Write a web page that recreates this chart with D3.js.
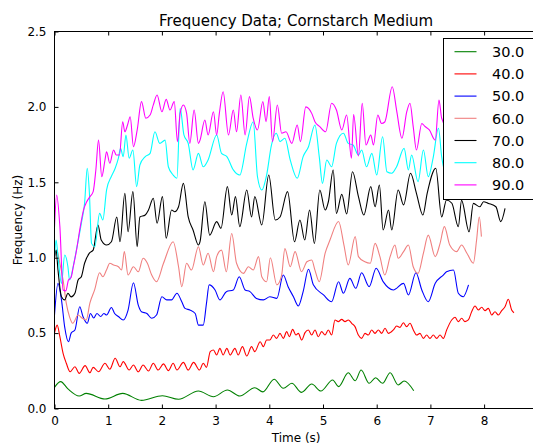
<!DOCTYPE html>
<html>
<head>
<meta charset="utf-8">
<script src="https://cdn.jsdelivr.net/npm/d3@7"></script>
<style>
  html, body { margin: 0; padding: 0; background: #fff; }
  svg { display: block; }
  text { font-family: "DejaVu Sans", sans-serif; fill: #000; }
</style>
</head>
<body>
<svg id="chart" width="533" height="446"></svg>
<script>
// ---- data: [time (s), frequency (Hz)] ----
const s30 = [[0,0.14],[0.115,0.178],[0.25,0.13],[0.46,0.083],[0.59,0.10],[0.94,0.063],[1.27,0.10],[1.62,0.054],[2.01,0.085],[2.31,0.061],[2.68,0.116],[2.96,0.078],[3.22,0.123],[3.45,0.083],[3.73,0.138],[3.88,0.11],[4.09,0.194],[4.26,0.134],[4.42,0.167],[4.6,0.107],[4.79,0.162],[4.96,0.116],[5.18,0.189],[5.29,0.145],[5.47,0.237],[5.6,0.184],[5.71,0.255],[5.86,0.167],[5.98,0.204],[6.11,0.167],[6.25,0.237],[6.4,0.156],[6.51,0.182],[6.69,0.118]];

const s40 = [[0,0.50],[0.05,0.553],[0.1,0.476],[0.16,0.366],[0.22,0.30],[0.29,0.244],[0.38,0.277],[0.46,0.233],[0.57,0.284],[0.66,0.237],[0.72,0.273],[0.82,0.244],[0.94,0.30],[1.03,0.26],[1.13,0.333],[1.22,0.277],[1.28,0.311],[1.39,0.255],[1.47,0.288],[1.56,0.244],[1.65,0.288],[1.75,0.249],[1.84,0.30],[1.93,0.255],[2.03,0.296],[2.12,0.251],[2.21,0.30],[2.28,0.255],[2.40,0.306],[2.49,0.255],[2.59,0.306],[2.70,0.255],[2.77,0.30],[2.83,0.273],[2.90,0.377],[2.96,0.388],[3.02,0.355],[3.08,0.399],[3.14,0.355],[3.21,0.399],[3.27,0.355],[3.36,0.399],[3.42,0.355],[3.50,0.41],[3.58,0.348],[3.67,0.41],[3.73,0.377],[3.83,0.443],[3.89,0.41],[3.95,0.454],[4.01,0.454],[4.075,0.487],[4.137,0.465],[4.199,0.498],[4.261,0.465],[4.324,0.51],[4.373,0.476],[4.435,0.525],[4.497,0.487],[4.541,0.498],[4.603,0.454],[4.665,0.503],[4.727,0.521],[4.789,0.487],[4.851,0.521],[4.913,0.476],[4.975,0.51],[5.037,0.487],[5.099,0.521],[5.161,0.487],[5.223,0.587],[5.285,0.576],[5.348,0.591],[5.41,0.576],[5.472,0.587],[5.534,0.565],[5.596,0.543],[5.658,0.487],[5.72,0.465],[5.782,0.498],[5.844,0.487],[5.906,0.521],[5.968,0.498],[6.031,0.521],[6.093,0.498],[6.155,0.532],[6.217,0.498],[6.31,0.521],[6.372,0.547],[6.434,0.538],[6.496,0.569],[6.558,0.543],[6.62,0.565],[6.682,0.521],[6.744,0.487],[6.806,0.498],[6.868,0.465],[6.93,0.487],[6.992,0.465],[7.054,0.487],[7.117,0.465],[7.179,0.487],[7.241,0.465],[7.303,0.521],[7.396,0.587],[7.458,0.605],[7.52,0.576],[7.582,0.598],[7.644,0.576],[7.706,0.587],[7.768,0.642],[7.831,0.68],[7.893,0.653],[7.955,0.671],[8.017,0.649],[8.079,0.664],[8.141,0.62],[8.203,0.642],[8.265,0.62],[8.327,0.649],[8.389,0.675],[8.451,0.724],[8.513,0.653],[8.556,0.635]];

const s50 = [[0,0.62],[0.065,0.83],[0.13,0.72],[0.19,0.54],[0.26,0.443],[0.31,0.50],[0.38,0.52],[0.47,0.675],[0.53,0.61],[0.61,0.565],[0.67,0.63],[0.73,0.60],[0.79,0.63],[0.86,0.61],[0.92,0.63],[0.97,0.62],[1.06,0.67],[1.12,0.63],[1.19,0.61],[1.28,0.587],[1.37,0.653],[1.47,0.834],[1.56,0.686],[1.62,0.642],[1.72,0.63],[1.81,0.598],[1.9,0.62],[2.0,0.741],[2.09,0.72],[2.18,0.72],[2.28,0.764],[2.37,0.708],[2.43,0.664],[2.52,0.653],[2.62,0.63],[2.68,0.553],[2.77,0.553],[2.83,0.697],[2.88,0.82],[2.99,0.786],[3.08,0.72],[3.2,0.775],[3.33,0.786],[3.44,0.874],[3.55,0.786],[3.64,0.775],[3.76,0.73],[3.89,0.72],[4.01,0.741],[4.14,0.73],[4.26,0.885],[4.35,0.808],[4.45,0.741],[4.54,0.68],[4.63,0.775],[4.73,0.923],[4.82,0.82],[5.01,0.753],[5.16,0.708],[5.29,0.841],[5.38,0.764],[5.5,0.863],[5.61,0.797],[5.72,0.90],[5.86,0.808],[5.99,0.93],[6.12,0.841],[6.31,0.786],[6.5,0.83],[6.59,0.753],[6.73,0.90],[6.84,0.786],[6.96,0.708],[7.09,0.83],[7.24,0.885],[7.3,0.907],[7.43,0.918],[7.52,0.764],[7.61,0.741],[7.71,0.82]];

const s60 = [[0,1.0],[0.04,1.05],[0.1,0.963],[0.16,0.852],[0.22,0.697],[0.28,0.608],[0.34,0.565],[0.44,0.62],[0.51,0.60],[0.59,0.587],[0.66,0.70],[0.75,0.79],[0.84,0.90],[0.9,0.874],[0.97,0.92],[1.03,0.963],[1.1,0.952],[1.19,0.94],[1.25,0.918],[1.3,1.04],[1.37,0.885],[1.47,0.94],[1.56,0.907],[1.65,0.996],[1.73,0.963],[1.81,0.885],[1.9,0.841],[2.03,0.963],[2.21,1.106],[2.31,0.94],[2.37,0.808],[2.46,0.963],[2.55,0.918],[2.68,1.073],[2.77,0.952],[2.86,1.03],[2.96,0.907],[3.02,1.007],[3.11,1.05],[3.2,0.907],[3.3,1.16],[3.39,0.963],[3.52,0.896],[3.61,0.94],[3.7,0.918],[3.8,1.007],[3.86,0.874],[3.95,0.841],[4.02,1.0],[4.14,0.82],[4.23,0.885],[4.29,1.06],[4.39,0.94],[4.48,1.04],[4.6,0.907],[4.7,0.973],[4.79,0.985],[4.85,0.918],[4.93,0.841],[5.04,1.03],[5.13,1.117],[5.29,1.24],[5.39,1.084],[5.47,0.952],[5.6,1.14],[5.66,1.007],[5.78,0.973],[5.88,0.963],[5.97,1.095],[6.06,1.007],[6.15,0.885],[6.25,1.007],[6.34,1.084],[6.4,0.996],[6.5,1.04],[6.59,1.084],[6.68,0.94],[6.77,0.896],[6.87,1.03],[6.96,1.15],[7.09,1.007],[7.18,1.095],[7.26,1.206],[7.36,1.084],[7.49,1.04],[7.58,1.084],[7.68,1.03],[7.8,0.963],[7.86,1.117],[7.91,1.27],[7.95,1.14]];

const s70 = [[0,1.0],[0.03,1.05],[0.065,0.918],[0.13,0.741],[0.19,0.72],[0.25,0.764],[0.31,0.74],[0.38,0.764],[0.44,0.852],[0.5,0.874],[0.56,0.963],[0.65,1.03],[0.72,1.05],[0.81,1.217],[0.87,1.117],[0.97,1.084],[1.06,1.106],[1.16,1.27],[1.22,1.106],[1.31,1.427],[1.37,1.172],[1.46,1.438],[1.54,1.073],[1.59,1.27],[1.69,1.283],[1.75,1.316],[1.84,1.394],[1.91,1.228],[2.01,1.405],[2.08,1.129],[2.18,1.316],[2.24,1.305],[2.31,1.338],[2.4,1.493],[2.49,1.27],[2.58,1.184],[2.68,1.084],[2.71,1.106],[2.8,1.371],[2.89,1.15],[3.02,1.239],[3.1,1.195],[3.22,1.471],[3.3,1.283],[3.37,1.405],[3.45,1.206],[3.58,1.449],[3.67,1.27],[3.73,1.405],[3.86,1.217],[3.99,1.548],[4.11,1.25],[4.2,1.27],[4.34,1.438],[4.47,1.106],[4.57,1.25],[4.66,1.117],[4.75,1.316],[4.84,1.095],[4.94,1.449],[5.04,1.316],[5.1,1.371],[5.19,1.582],[5.25,1.294],[5.35,1.42],[5.44,1.29],[5.55,1.57],[5.66,1.405],[5.76,1.283],[5.89,1.471],[5.97,1.338],[6.05,1.482],[6.12,1.184],[6.22,1.316],[6.28,1.184],[6.4,1.449],[6.5,1.35],[6.63,1.56],[6.74,1.427],[6.86,1.283],[6.94,1.427],[7.1,1.593],[7.21,1.27],[7.3,1.383],[7.4,1.361],[7.52,1.206],[7.58,1.38],[7.72,1.172],[7.8,1.36],[7.92,1.338],[7.99,1.371],[8.08,1.36],[8.22,1.338],[8.31,1.239],[8.39,1.327]];

const s80 = [[0,1.0],[0.03,1.117],[0.065,1.007],[0.13,0.83],[0.19,1.018],[0.25,0.94],[0.28,0.852],[0.36,0.963],[0.42,1.073],[0.5,1.228],[0.56,1.36],[0.61,1.593],[0.65,1.427],[0.69,1.095],[0.75,1.073],[0.84,1.294],[0.9,1.25],[0.97,1.45],[1.06,1.54],[1.13,1.593],[1.19,1.66],[1.23,1.725],[1.28,1.67],[1.33,1.814],[1.39,1.66],[1.46,1.714],[1.53,1.471],[1.59,1.615],[1.69,1.67],[1.78,1.692],[1.87,1.835],[1.96,1.758],[2.06,1.78],[2.12,1.603],[2.21,1.548],[2.28,1.527],[2.34,1.99],[2.41,1.814],[2.49,1.758],[2.58,1.582],[2.68,1.692],[2.77,1.603],[2.86,1.648],[3.02,1.814],[3.11,1.692],[3.21,1.67],[3.33,1.582],[3.45,1.548],[3.58,1.758],[3.7,1.902],[3.78,1.537],[3.86,1.449],[3.95,1.548],[4.04,1.747],[4.13,1.825],[4.2,1.77],[4.29,1.792],[4.39,1.648],[4.52,1.527],[4.63,1.67],[4.73,1.736],[4.85,1.88],[4.93,1.67],[4.99,1.493],[5.07,1.648],[5.16,1.603],[5.25,1.758],[5.38,1.825],[5.47,1.758],[5.56,1.747],[5.66,1.681],[5.72,1.714],[5.81,1.603],[5.91,1.692],[6.0,1.548],[6.11,1.802],[6.19,1.57],[6.28,1.56],[6.37,1.603],[6.51,1.725],[6.59,1.582],[6.65,1.681],[6.77,1.504],[6.87,1.714],[6.96,1.537],[7.05,1.66],[7.15,1.858],[7.21,1.67],[7.3,1.55],[7.45,1.7],[7.6,1.6],[7.75,1.75],[7.9,1.65],[8.05,1.7]];

const s90 = [[0,1.2],[0.04,1.416],[0.1,1.206],[0.16,0.786],[0.21,0.78],[0.26,0.852],[0.31,0.87],[0.35,0.94],[0.41,1.05],[0.47,1.184],[0.54,1.316],[0.6,1.371],[0.66,1.405],[0.72,1.438],[0.77,1.582],[0.82,1.78],[0.88,1.537],[0.94,1.648],[0.97,1.703],[1.03,1.626],[1.1,1.714],[1.15,1.681],[1.21,1.681],[1.27,1.902],[1.31,1.835],[1.36,1.88],[1.41,1.935],[1.47,1.736],[1.54,1.847],[1.62,2.035],[1.7,1.925],[1.78,1.946],[1.84,2.013],[1.91,2.079],[2.0,1.968],[2.08,2.05],[2.15,1.979],[2.23,2.035],[2.29,1.77],[2.34,1.957],[2.4,2.013],[2.46,1.957],[2.52,1.758],[2.6,1.979],[2.68,1.758],[2.71,1.78],[2.8,1.913],[2.86,1.814],[2.96,1.968],[3.02,1.814],[3.07,1.957],[3.14,2.1],[3.24,1.814],[3.33,1.979],[3.39,1.835],[3.47,2.079],[3.55,1.814],[3.63,2.068],[3.7,1.925],[3.78,1.847],[3.88,2.035],[3.94,1.902],[4.0,2.068],[4.06,1.77],[4.15,2.013],[4.23,1.825],[4.31,1.835],[4.42,1.758],[4.52,1.88],[4.58,1.77],[4.68,2.0],[4.79,1.957],[4.85,1.902],[4.94,1.869],[5.05,1.835],[5.16,2.024],[5.25,1.979],[5.35,1.847],[5.44,1.946],[5.53,1.66],[5.57,1.95],[5.66,1.675],[5.73,2.024],[5.8,1.747],[5.89,1.814],[5.94,1.747],[6.02,1.946],[6.09,1.89],[6.15,1.9],[6.29,2.134],[6.37,1.979],[6.47,1.792],[6.56,1.968],[6.62,2.024],[6.68,1.869],[6.74,1.714],[6.84,1.89],[6.9,1.87],[6.98,1.847],[7.09,1.78],[7.16,2.046],[7.21,1.925],[7.35,1.85],[7.5,2.0],[7.65,1.85],[7.8,1.95],[7.95,1.9],[8.1,1.95]];

const seriesLabels = ["30.0", "40.0", "50.0", "60.0", "70.0", "80.0", "90.0"];
const xTicks = [0, 1, 2, 3, 4, 5, 6, 7, 8];
const yTicks = [0.0, 0.5, 1.0, 1.5, 2.0, 2.5];
const titleText = "Frequency Data; Cornstarch Medium";
const xLabelText = "Time (s)";
const yLabelText = "Frequency (Hz)";

// ---- styles ----
const seriesData = [s30, s40, s50, s60, s70, s80, s90];
const colors = ["#008000", "#ff0000", "#0000ff", "#f08080", "#000000", "#00ffff", "#ff00ff"];

const svg = d3.select("#chart");
const L = 54.5, R = 537.8, T = 31.5, B = 408.5;
const x = d3.scaleLinear().domain([0, 9]).range([L, R]);
const y = d3.scaleLinear().domain([0, 2.5]).range([B, T]);

svg.append("defs").append("clipPath").attr("id", "plotclip")
  .append("rect").attr("x", L).attr("y", T).attr("width", R - L).attr("height", B - T);

const line = d3.line().x(d => x(d[0])).y(d => y(d[1])).curve(d3.curveMonotoneX);

const plot = svg.append("g").attr("clip-path", "url(#plotclip)");
seriesData.forEach((s, i) => {
  plot.append("path").datum(s)
    .attr("d", line)
    .attr("fill", "none")
    .attr("stroke", colors[i])
    .attr("stroke-width", 1.1)
    .attr("stroke-linejoin", "round");
});

// axes (ticks inward, mirrored on top/right)
const tickLen = 4;
const fmt = d3.format(".1f");
const xAxisB = d3.axisBottom(x).tickValues(xTicks).tickSizeInner(-tickLen).tickSizeOuter(0).tickPadding(8).tickFormat(d3.format("d"));
const xAxisT = d3.axisTop(x).tickValues(xTicks).tickSizeInner(-tickLen).tickSizeOuter(0).tickFormat("");
const yAxisL = d3.axisLeft(y).tickValues(yTicks).tickSizeInner(-tickLen).tickSizeOuter(0).tickPadding(8).tickFormat(fmt);
const yAxisR = d3.axisRight(y).tickValues(yTicks).tickSizeInner(-tickLen).tickSizeOuter(0).tickFormat("");

function styleAxis(g) {
  g.select(".domain").remove();
  g.selectAll(".tick line").attr("stroke", "#000").attr("stroke-width", 1);
  g.selectAll(".tick text").style("font-family", "DejaVu Sans, sans-serif").style("font-size", "12px").attr("fill", "#000");
}
svg.append("g").attr("transform", `translate(0,${B})`).call(xAxisB).call(styleAxis);
svg.append("g").attr("transform", `translate(0,${T})`).call(xAxisT).call(styleAxis);
svg.append("g").attr("transform", `translate(${L},0)`).call(yAxisL).call(styleAxis);
svg.append("g").attr("transform", `translate(${R},0)`).call(yAxisR).call(styleAxis);

// frame
svg.append("rect").attr("x", L).attr("y", T).attr("width", R - L).attr("height", B - T)
  .attr("fill", "none").attr("stroke", "#000").attr("stroke-width", 1);

// title & labels
svg.append("text").attr("x", (L + R) / 2).attr("y", 26).attr("text-anchor", "middle")
  .style("font-size", "15px").text(titleText);
svg.append("text").attr("x", (L + R) / 2).attr("y", 442).attr("text-anchor", "middle")
  .style("font-size", "12px").text(xLabelText);
svg.append("text").attr("transform", `translate(22,${(T + B) / 2}) rotate(-90)`).attr("text-anchor", "middle")
  .style("font-size", "12px").text(yLabelText);

// legend
const lg = svg.append("g");
lg.append("rect").attr("x", 443.5).attr("y", 38.5).attr("width", 100).attr("height", 161)
  .attr("fill", "#fff").attr("stroke", "#000").attr("stroke-width", 1);
seriesLabels.forEach((lab, i) => {
  const yy = 51.7 + i * 22.2;
  lg.append("line").attr("x1", 454.5).attr("x2", 476.5).attr("y1", yy).attr("y2", yy)
    .attr("stroke", colors[i]).attr("stroke-width", 1.1);
  lg.append("text").attr("x", 492).attr("y", yy).attr("dy", "0.36em")
    .style("font-size", "14.5px").text(lab);
});
</script>
</body>
</html>
